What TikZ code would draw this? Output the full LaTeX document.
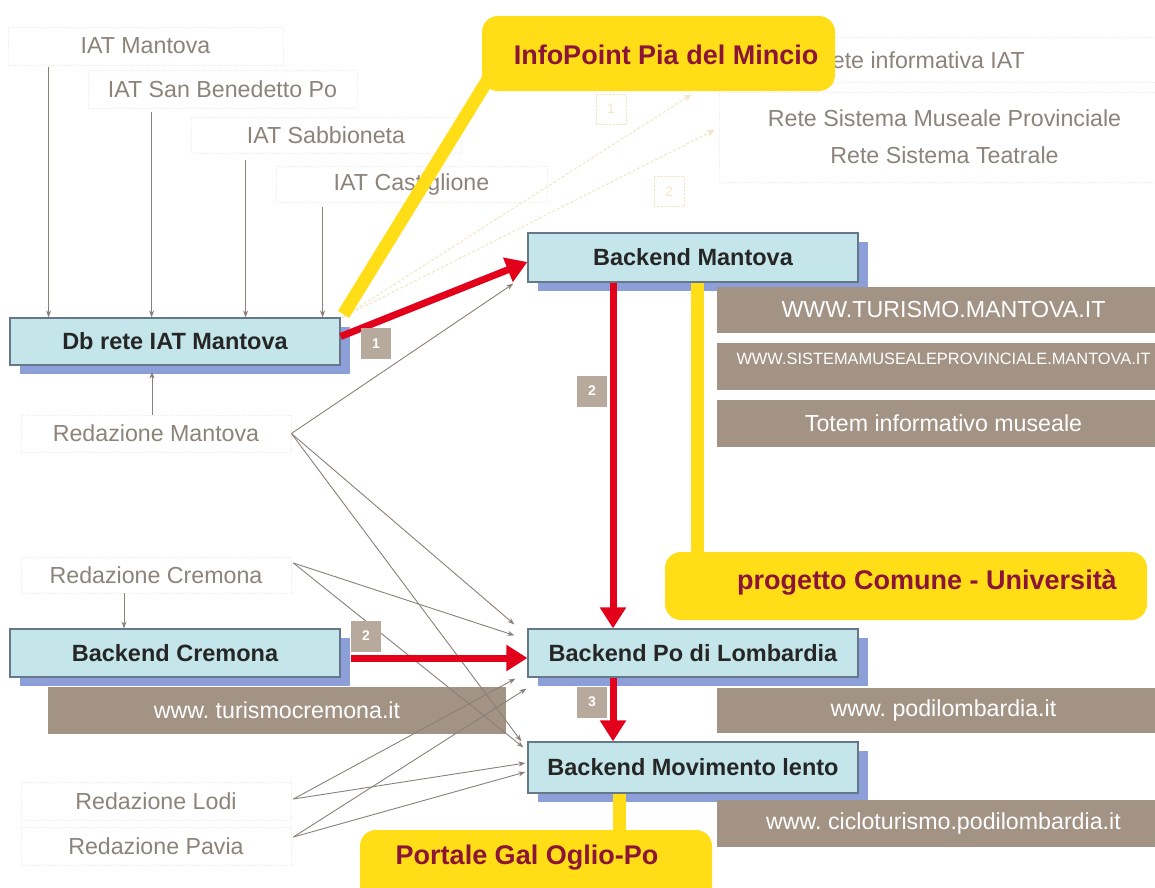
\documentclass[tikz,border=0pt]{standalone}
\usepackage{fontspec}
\setmainfont{Liberation Sans}
\usetikzlibrary{arrows.meta,shadows,calc}
\definecolor{boxfill}{HTML}{C4E5E9}
\definecolor{boxline}{HTML}{66778A}
\definecolor{shadowblue}{HTML}{8C9FD8}
\definecolor{redarr}{HTML}{E2001A}
\definecolor{callyel}{HTML}{FFDE17}
\definecolor{calltext}{HTML}{8A1538}
\definecolor{brownbox}{HTML}{A29385}
\definecolor{graytext}{HTML}{8C837B}
\definecolor{grayline}{HTML}{8A8079}
\definecolor{faintline}{HTML}{F5EEE8}
\definecolor{faintyel}{HTML}{F3E6C6}
\definecolor{labelbox}{HTML}{B7A99B}
\frenchspacing
\begin{document}
\frenchspacing
\begin{tikzpicture}[x=1pt,y=-1pt,
  backend/.style={draw=boxline, line width=1.2pt, fill=boxfill, minimum width=330pt, minimum height=48pt,
    inner sep=0pt, font=\fontsize{23.5}{27}\selectfont\bfseries, text=black!85,
    drop shadow={shadow xshift=10pt, shadow yshift=-9pt, fill=shadowblue, opacity=1}},
  srcbox/.style={draw=faintline, densely dotted, line width=0.8pt, inner sep=0pt,
    font=\fontsize{23.2}{27}\selectfont, text=graytext},
  srctext/.style={inner sep=0pt, font=\fontsize{23.2}{27}\selectfont, text=graytext},
  web/.style={fill=brownbox, inner sep=0pt, minimum width=453pt, font=\fontsize{23.2}{27}\selectfont, text=white},
  callout/.style={fill=callyel, rounded corners=16pt, inner sep=0pt},
  calltxt/.style={inner sep=0pt, font=\fontsize{27}{31}\selectfont\bfseries, text=calltext},
  numlabel/.style={fill=labelbox, minimum width=30pt, minimum height=31pt, inner sep=0pt,
    font=\fontsize{14}{16}\selectfont\bfseries, text=white},
  faintlabel/.style={draw=faintyel, densely dotted, minimum width=30pt, minimum height=30pt, inner sep=0pt,
    font=\fontsize{14}{16}\selectfont, text=faintyel},
  rarrow/.style={draw=redarr, line width=7pt, -{Triangle[length=21pt,width=25pt]}},
  garrow/.style={draw=grayline, line width=0.9pt, -{Stealth[length=7pt,width=5pt]}},
  farrow/.style={draw=faintyel, line width=1pt, densely dashed, -{Stealth[length=8pt,width=7pt]}},
  yline/.style={draw=callyel, line width=13pt}
]
\useasboundingbox (0,0) rectangle (1155,887);
\fill[white] (0,0) rectangle (1155,887);

% faint network boxes (upper right)
\node[srcbox, minimum width=380pt, minimum height=45pt] (rete1) at (980,59.5) {};
\node[srctext] (rete1t) at (920,60) {Rete informativa IAT};
\node[srcbox, minimum width=451pt, minimum height=90pt, align=center, text=graytext,
      font=\fontsize{23.2}{37}\selectfont] (rete2) at (944.5,137) {Rete Sistema Museale Provinciale\\Rete Sistema Teatrale};
\node[faintlabel] (f1) at (611,109) {1};
\node[faintlabel] (f2) at (669,191.5) {2};

% IAT sources
\node[srcbox, minimum width=275pt, minimum height=38pt] (iat1) at (145.5,46) {IAT Mantova};
\node[srcbox, minimum width=269pt, minimum height=38pt] (iat2) at (222.5,89) {IAT San Benedetto Po};
\node[srcbox, minimum width=270pt, minimum height=36pt] (iat3) at (326,135) {IAT Sabbioneta};
\node[srcbox, minimum width=271pt, minimum height=36pt] (iat4) at (411.5,184) {IAT Castiglione};

% redazioni
\node[srcbox, minimum width=270pt, minimum height=37pt] (rm) at (156,433.5) {Redazione Mantova};
\node[srcbox, minimum width=270pt, minimum height=36pt] (rc) at (156,575) {Redazione Cremona};
\node[srcbox, minimum width=270pt, minimum height=38pt] (rl) at (156,801) {Redazione Lodi};
\node[srcbox, minimum width=270pt, minimum height=38pt] (rp) at (156,846) {Redazione Pavia};

% callout boxes
\node[callout, minimum width=353pt, minimum height=75pt] (ip) at (658.5,53.5) {};
\node[callout, minimum width=482pt, minimum height=68pt] (pc) at (906,586) {};
\node[callout, minimum width=352pt, minimum height=80pt] (pg) at (536,870) {};

% backend boxes
\node[backend, minimum height=47pt] (db) at (175,341.5) {Db rete IAT Mantova};
\node[backend, minimum height=49pt] (bm) at (693,257.5) {Backend Mantova};
\node[backend] (bc) at (175,653) {Backend Cremona};
\node[backend] (bpo) at (693,653) {Backend Po di Lombardia};
\node[backend, minimum height=51pt] (bml) at (693,767.5) {Backend Movimento lento};

% faint links toward the networks
\draw[farrow] ([xshift=2pt]db.north east) -- ($(rete2.west)+(-4,-7)$);
\draw[farrow] ([xshift=2pt]db.north east) -- ($(rete1.south west)+(-98,12)$);

% yellow callout stems
\draw[yline] ([xshift=3pt,yshift=3pt]db.north east) -- ($(ip.south west)+(10,-18)$);
\draw[yline] ([xshift=4pt]bm.south) -- ([xshift=4pt]bm.south |- pc.north);
\draw[yline] ([xshift=-74pt]bml.south) -- ([xshift=-74pt]bml.south |- pg.north);

% web outputs
\node[web, minimum height=46pt] (w1) at (943.5,310) {WWW.TURISMO.MANTOVA.IT};
\node[web, minimum height=47pt, font=\fontsize{16.4}{18}\selectfont, text height=21pt, text depth=26pt] (w2) at (943.5,366.5) {WWW.SISTEMAMUSEALEPROVINCIALE.MANTOVA.IT};
\node[web, minimum height=47pt] (w3) at (943.5,423.5) {Totem informativo museale};
\node[web, minimum height=45pt] (w4) at (943.5,710.5) {www. podilombardia.it};
\node[web, minimum height=47pt] (w5) at (943.5,823.5) {www. cicloturismo.podilombardia.it};
\node[web, minimum width=458pt, minimum height=47pt] (w6) at (277,710.5) {www. turismocremona.it};

% callout texts
\node[calltxt] (ipt) at (666,55) {InfoPoint Pia del Mincio};
\node[calltxt] (pct) at (927,582) {progetto Comune - Università};
\node[calltxt] (pgt) at (527,858) {Portale Gal Oglio-Po};

% IAT feeds into Db
\draw[garrow] ([xshift=41pt,yshift=-2pt]iat1.south west) -- ([xshift=41pt]iat1.south west |- db.north);
\draw[garrow] ([xshift=64pt,yshift=-4pt]iat2.south west) -- ([xshift=64pt]iat2.south west |- db.north);
\draw[garrow] ([xshift=55pt,yshift=-7pt]iat3.south west) -- ([xshift=55pt]iat3.south west |- db.north);
\draw[garrow] ([xshift=47pt,yshift=-5pt]iat4.south west) -- ([xshift=47pt]iat4.south west |- db.north);
\draw[garrow] ([xshift=-4pt]rm.north) -- ([xshift=-4pt,yshift=-6pt]rm.north |- db.south);
\draw[garrow] ([xshift=-32pt]rc.south) -- ([xshift=-32pt]rc.south |- bc.north);

% redazioni to backends
\draw[garrow] (rm.east) -- ([xshift=-14pt,yshift=-1pt]bm.south west);
\draw[garrow] (rm.east) -- ([xshift=-13pt,yshift=4pt]bpo.north west);
\draw[garrow] (rm.east) -- ([xshift=-6pt]bml.north west);
\draw[garrow] ([xshift=2pt,yshift=12pt]rc.east) -- ([xshift=-13pt,yshift=-7pt]bpo.north west);
\draw[garrow] ([xshift=2pt,yshift=12pt]rc.east) -- ([xshift=-4pt,yshift=-6pt]bml.north west);
\draw[garrow] ([xshift=2pt,yshift=2pt]rl.east) -- ([xshift=-12pt,yshift=-1pt]bpo.south west);
\draw[garrow] ([xshift=2pt,yshift=2pt]rl.east) -- ([xshift=-2pt,yshift=4.5pt]bml.west);
\draw[garrow] ([xshift=2pt,yshift=9pt]rp.east) -- ([xshift=-1pt,yshift=-11pt]bpo.south west);
\draw[garrow] ([xshift=2pt,yshift=9pt]rp.east) -- ([xshift=-2pt,yshift=-4.5pt]bml.west);

% main red flows
\draw[rarrow] ([yshift=5pt]db.east) -- ([yshift=-4.5pt]bm.west);
\draw[rarrow] ([xshift=-80pt]bm.south) -- ([xshift=-80pt]bpo.north);
\draw[rarrow] ([xshift=10pt,yshift=-5pt]bc.east) -- ([yshift=-5pt]bpo.west);
\draw[rarrow] ([xshift=-80pt]bpo.south) -- ([xshift=-80pt]bml.north);

% step labels
\node[numlabel] (n1) at (376,343.5) {1};
\node[numlabel] (n2) at (592,391) {2};
\node[numlabel] (n2b) at (366,636) {2};
\node[numlabel] (n3) at (592,702) {3};
\end{tikzpicture}
\end{document}
